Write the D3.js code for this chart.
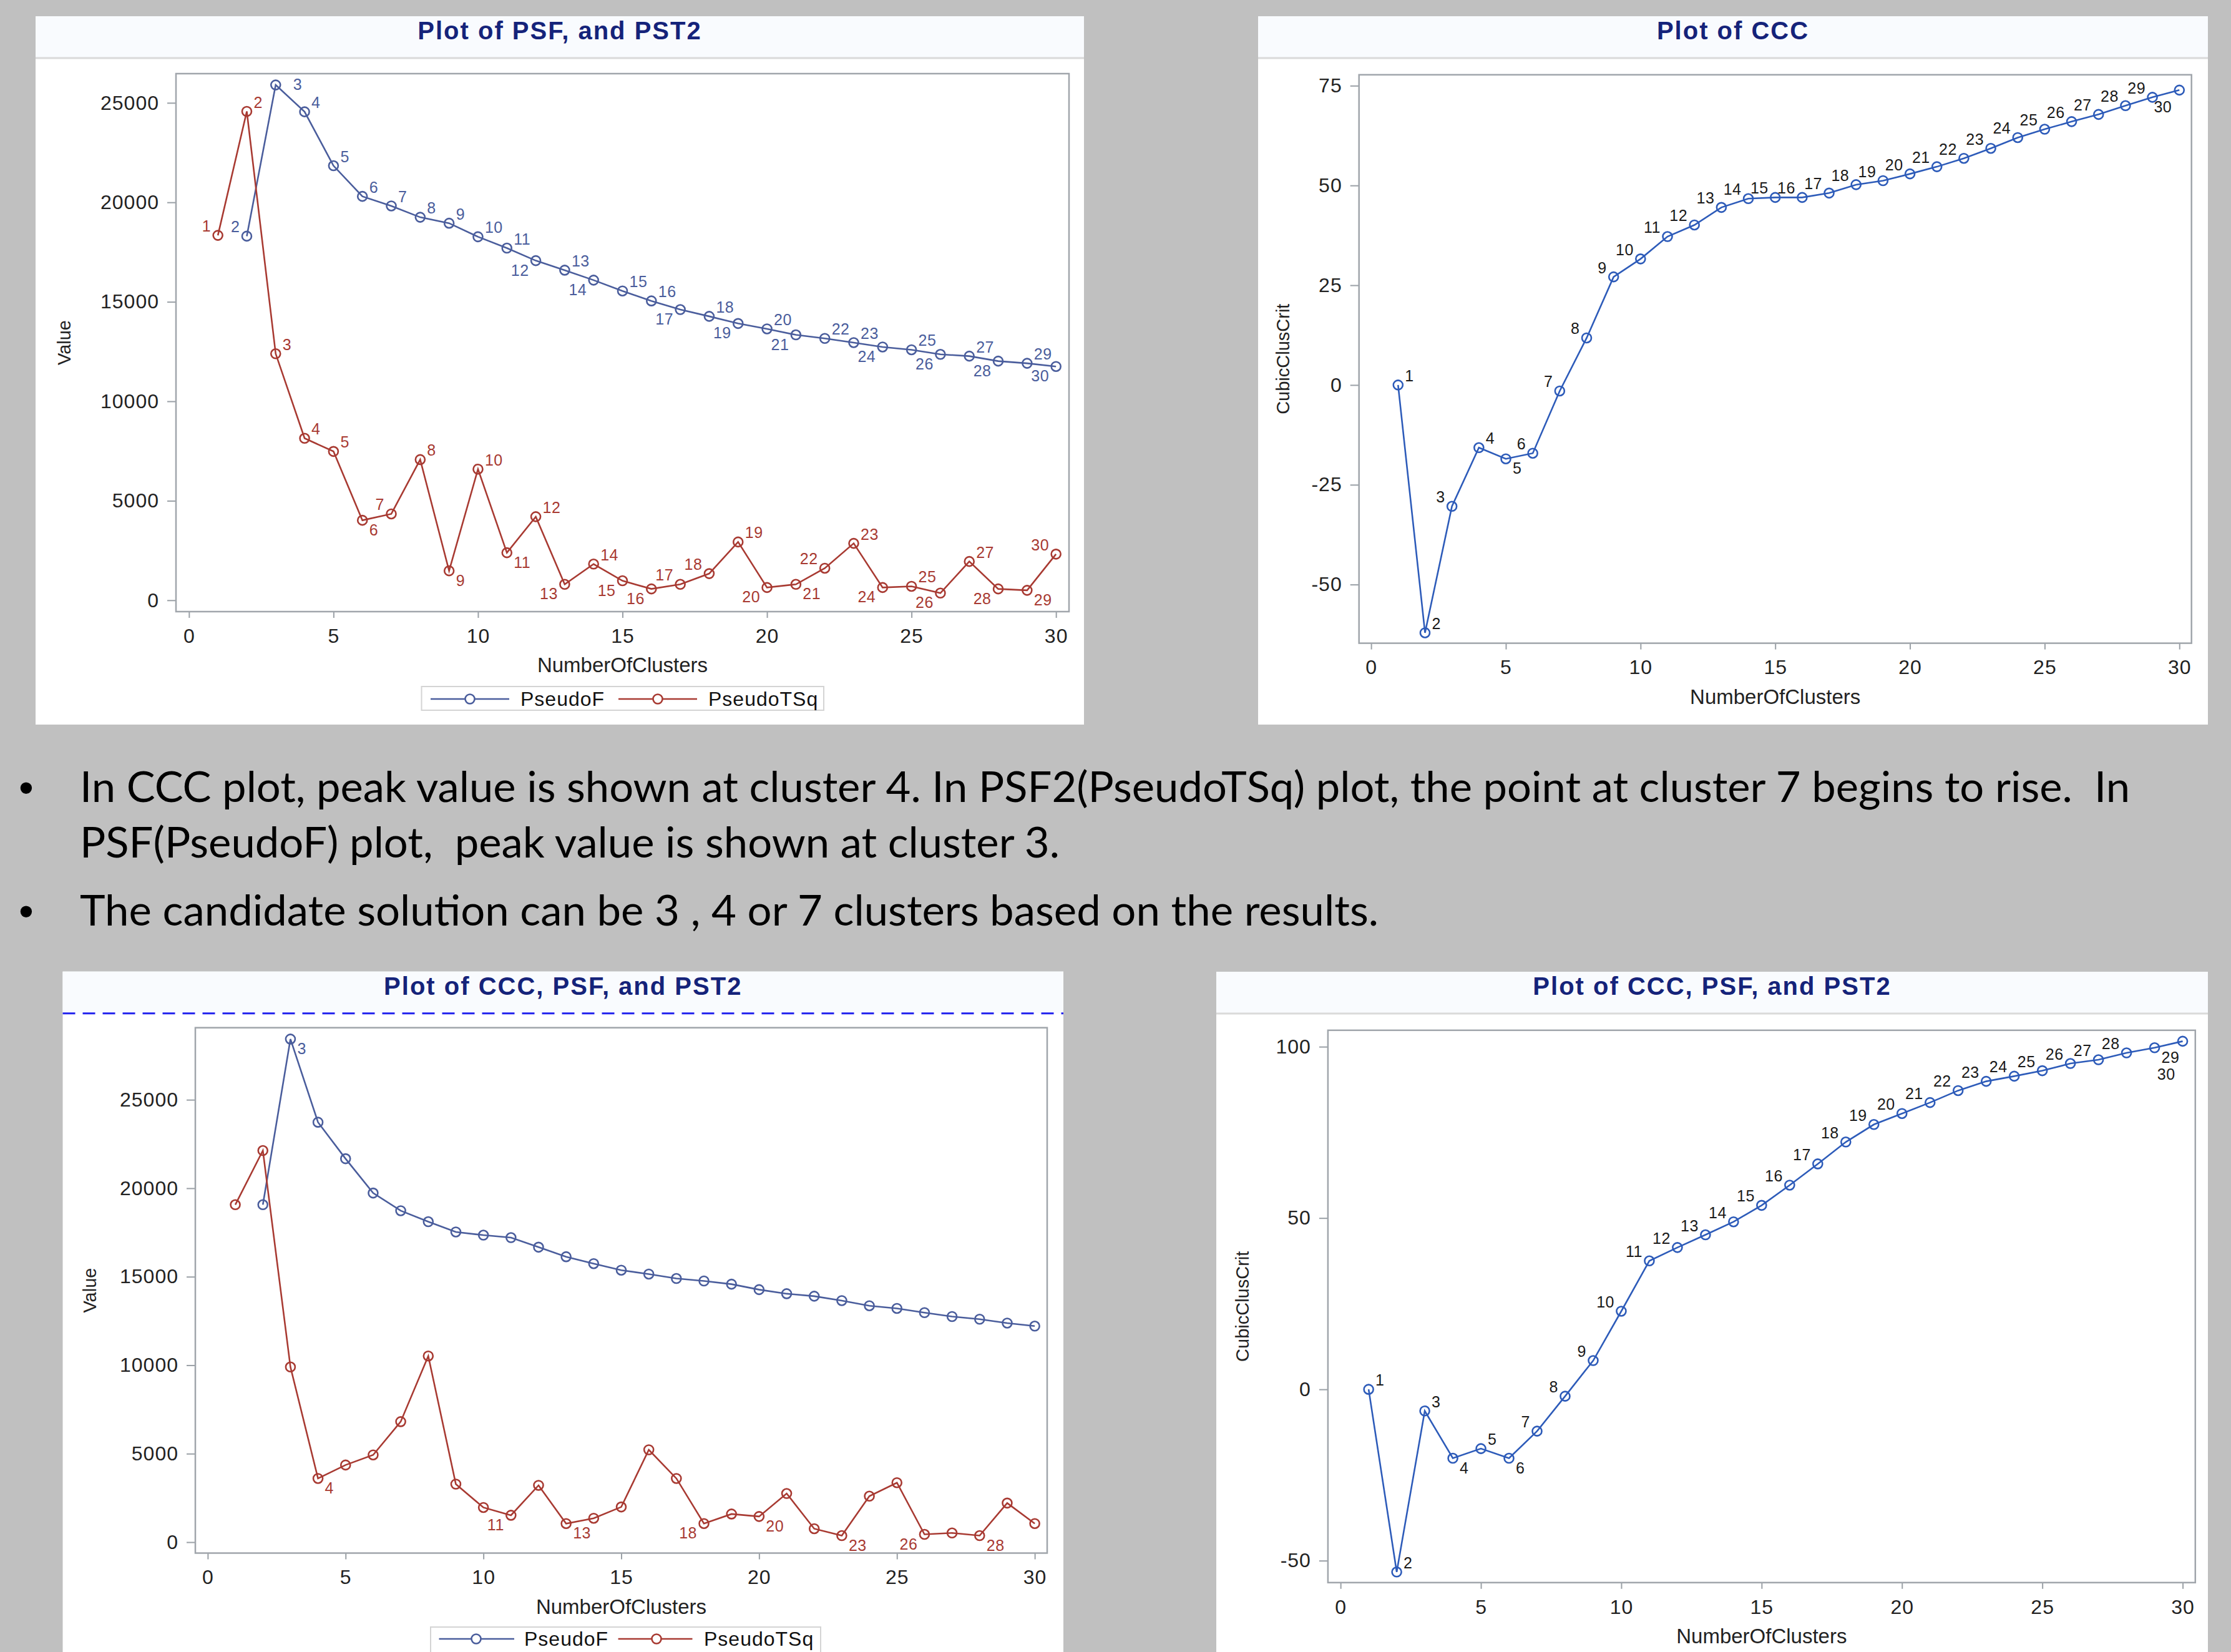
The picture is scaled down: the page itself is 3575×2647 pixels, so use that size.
<!DOCTYPE html>
<html>
<head>
<meta charset="utf-8">
<script src="https://cdn.jsdelivr.net/npm/d3@7/dist/d3.min.js"></script>
<style>
  html, body { margin: 0; padding: 0; background: #c0c0c0; }
  svg { display: block; }
</style>
</head>
<body>
<svg id="chart" width="3575" height="2647"></svg>
<script>
// ── Data ──────────────────────────────────────────────────────────────────────
const clusters = [1, 2, 3, 4, 5, 6, 7, 8, 9, 10, 11, 12, 13, 14, 15,
  16, 17, 18, 19, 20, 21, 22, 23, 24, 25, 26, 27, 28, 29, 30];
const clustersFrom2 = clusters.slice(1);

// top-left: Plot of PSF, and PST2
const pseudoFTop = [18300, 25900, 24550, 21840, 20300, 19820, 19250, 18950, 18270, 17700,
  17070, 16590, 16090, 15545, 15045, 14610, 14270, 13910, 13640, 13340,
  13160, 12950, 12730, 12590, 12360, 12270, 12020, 11910, 11750];
const pseudoTSqTop = [18340, 24570, 12390, 8140, 7480, 4020, 4340, 7070, 1480, 6590,
  2390, 4200, 800, 1820, 980, 570, 800, 1340, 2930, 640,
  800, 1610, 2860, 640, 700, 360, 1950, 570, 500, 2320];

// top-right: Plot of CCC
const cccTop = [0, -62.1, -30.4, -15.7, -18.5, -17.1, -1.5, 11.8, 27.1, 31.6,
  37.2, 40.1, 44.5, 46.7, 47.0, 47.0, 48.1, 50.2, 51.2, 52.9,
  54.7, 56.8, 59.3, 62.0, 64.1, 66.0, 67.8, 70.0, 72.1, 73.9];

// bottom-left: Plot of CCC, PSF, and PST2 (PSF / PST2)
const pseudoFBot = [19070, 28430, 23730, 21670, 19730, 18730, 18110, 17530, 17350, 17210,
  16670, 16130, 15740, 15370, 15150, 14900, 14760, 14580, 14270, 14040,
  13900, 13650, 13360, 13210, 12970, 12750, 12600, 12380, 12210];
const pseudoTSqBot = [19070, 22130, 9900, 3600, 4360, 4930, 6810, 10520, 3280, 1960,
  1520, 3210, 1050, 1350, 1990, 5220, 3600, 1050, 1590, 1450,
  2750, 760, 370, 2600, 3360, 440, 520, 370, 2210, 1050];

// bottom-right: Plot of CCC, PSF, and PST2 (CCC)
const cccBot = [0, -53.3, -6.3, -20.1, -17.3, -20.1, -12.2, -2.0, 8.4, 22.8,
  37.5, 41.4, 45.1, 48.9, 53.7, 59.6, 65.8, 72.2, 77.3, 80.5,
  83.7, 87.2, 89.9, 91.4, 93.0, 95.1, 96.2, 98.2, 99.7, 101.6];

const xTicks = [0, 5, 10, 15, 20, 25, 30];
const valueTicks = [0, 5000, 10000, 15000, 20000, 25000];
const cccTopTicks = [-50, -25, 0, 25, 50, 75];
const cccBotTicks = [-50, 0, 50, 100];

const bulletLines = [
  'In CCC plot, peak value is shown at cluster 4. In PSF2(PseudoTSq) plot, the point at cluster 7 begins to rise.  In',
  'PSF(PseudoF) plot,  peak value is shown at cluster 3.',
  'The candidate solution can be 3 , 4 or 7 clusters based on the results.'
];

// label placement per point (style only): ur / ul / lr / ll / lb / r / ll2, null = no label
const placePsfTop = ['ul', 'r', 'ur', 'ur', 'ur', 'ur', 'ur', 'ur', 'ur', 'ur',
  'll', 'ur', 'll', 'ur', 'ur', 'll', 'ur', 'll', 'ur', 'll',
  'ur', 'ur', 'll', 'ur', 'll', 'ur', 'll', 'ur', 'll'];
const placePstTop = ['ul', 'ur', 'ur', 'ur', 'ur', 'lr', 'ul', 'ur', 'lr', 'ur',
  'lr', 'ur', 'll', 'ur', 'll', 'll', 'ul', 'ul', 'ur', 'll',
  'lr', 'ul', 'ur', 'll', 'ur', 'll', 'ur', 'll', 'lr', 'ul'];
const placeCccTop = ['ur', 'ur', 'ul', 'ur', 'lr', 'ul', 'ul', 'ul', 'ul', 'ul',
  'ul', 'ul', 'ul', 'ul', 'ul', 'ul', 'ul', 'ul', 'ul', 'ul',
  'ul', 'ul', 'ul', 'ul', 'ul', 'ul', 'ul', 'ul', 'ul', 'lb'];
const placePsfBot = [null, 'lr', null, null, null, null, null, null, null, null,
  null, null, null, null, null, null, null, null, null, null,
  null, null, null, null, null, null, null, null, null];
const placePstBot = [null, null, null, 'lr', null, null, null, null, null, null,
  'll', null, 'lr', null, null, null, null, 'll', null, 'lr',
  null, null, 'lr', null, null, 'll', null, 'lr', null, null];
const placeCccBot = ['ur', 'ur', 'ur', 'lr', 'ur', 'lr', 'ul', 'ul', 'ul', 'ul',
  'ul', 'ul', 'ul', 'ul', 'ul', 'ul', 'ul', 'ul', 'ul', 'ul',
  'ul', 'ul', 'ul', 'ul', 'ul', 'ul', 'ul', 'ul', 'lr', 'll2'];

// ── Style ─────────────────────────────────────────────────────────────────────
const FONT = '"Liberation Sans", Arial, sans-serif';
const BLUE = '#4a5d9c';
const RED = '#a83a32';
const CCC_BLUE = '#2d5bb9';
const TITLE = '#15237a';

const OFFSETS = {
  ur:  { dx: 11,  dy: -6, anchor: 'start' },
  ul:  { dx: -11, dy: -6, anchor: 'end' },
  lr:  { dx: 11,  dy: 24, anchor: 'start' },
  ll:  { dx: -11, dy: 24, anchor: 'end' },
  lb:  { dx: -12, dy: 36, anchor: 'end' },
  r:   { dx: 28,  dy: 8,  anchor: 'start' },
  ll2: { dx: -12, dy: 62, anchor: 'end' }
};

const svg = d3.select('#chart');
svg.append('rect').attr('width', 3575).attr('height', 2647).attr('fill', '#c0c0c0');

// ── Panel ─────────────────────────────────────────────────────────────────────
function drawPanel(p) {
  const [bx0, by0, bx1, by1] = p.box;
  const [fx0, fy0, fx1, fy1] = p.frame;
  const g = svg.append('g');

  g.append('rect')
    .attr('x', bx0).attr('y', by0)
    .attr('width', bx1 - bx0).attr('height', by1 - by0)
    .attr('fill', '#ffffff');

  // title band
  g.append('rect')
    .attr('x', bx0).attr('y', by0)
    .attr('width', bx1 - bx0).attr('height', 67)
    .attr('fill', '#f9fbfe');
  g.append('line')
    .attr('x1', bx0).attr('x2', bx1)
    .attr('y1', by0 + 67).attr('y2', by0 + 67)
    .attr('stroke', p.dashed ? '#2222ee' : '#dadada')
    .attr('stroke-width', 3)
    .attr('stroke-dasharray', p.dashed ? '20,12' : null);
  g.append('text')
    .attr('x', (bx0 + bx1) / 2).attr('y', by0 + 37)
    .attr('text-anchor', 'middle')
    .attr('font-family', FONT).attr('font-weight', 'bold')
    .attr('font-size', 40).attr('letter-spacing', 2)
    .attr('fill', TITLE)
    .text(p.title);

  const x = d3.scaleLinear().domain([-0.45, 30.45]).range([fx0, fx1]);
  const y = d3.scaleLinear().domain(p.yDomain).range([fy1, fy0]);

  // axes
  const xAxis = g.append('g')
    .attr('transform', `translate(0,${fy1})`)
    .call(d3.axisBottom(x).tickValues(xTicks).tickSize(10).tickPadding(17));
  const yAxis = g.append('g')
    .attr('transform', `translate(${fx0},0)`)
    .call(d3.axisLeft(y).tickValues(p.yTicks).tickSize(14).tickPadding(13).tickFormat(d3.format('d')));
  [xAxis, yAxis].forEach(a => {
    a.select('.domain').remove();
    a.selectAll('line').attr('stroke', '#9aa0a6').attr('stroke-width', 2);
    a.selectAll('text')
      .attr('font-family', FONT).attr('font-size', 32)
      .attr('letter-spacing', 1).attr('fill', '#222');
  });
  yAxis.selectAll('text').text(d => d < 0 ? '-' + Math.abs(d) : d);

  // frame
  g.append('rect')
    .attr('x', fx0).attr('y', fy0)
    .attr('width', fx1 - fx0).attr('height', fy1 - fy0)
    .attr('fill', 'none').attr('stroke', '#a0a5ab').attr('stroke-width', 2.5);

  // axis labels
  g.append('text')
    .attr('x', (fx0 + fx1) / 2).attr('y', fy1 + 97)
    .attr('text-anchor', 'middle')
    .attr('font-family', FONT).attr('font-size', 33).attr('fill', '#222')
    .text('NumberOfClusters');
  g.append('text')
    .attr('transform', `translate(${p.yLabelX},${(fy0 + fy1) / 2}) rotate(-90)`)
    .attr('text-anchor', 'middle').attr('dominant-baseline', 'central')
    .attr('font-family', FONT).attr('font-size', 29).attr('fill', '#222')
    .text(p.yLabel);

  // series
  p.series.forEach(s => {
    const pts = s.x.map((k, i) => ({ k, v: s.y[i], place: s.place[i] }));
    g.append('path')
      .datum(pts)
      .attr('fill', 'none')
      .attr('stroke', s.color).attr('stroke-width', 2.6)
      .attr('d', d3.line().x(d => x(d.k)).y(d => y(d.v)));
    g.append('g').selectAll('circle')
      .data(pts)
      .join('circle')
      .attr('cx', d => x(d.k)).attr('cy', d => y(d.v))
      .attr('r', 7.5)
      .attr('fill', 'none').attr('stroke', s.color).attr('stroke-width', 2.6);
    g.append('g').selectAll('text')
      .data(pts.filter(d => d.place))
      .join('text')
      .attr('x', d => x(d.k) + OFFSETS[d.place].dx)
      .attr('y', d => y(d.v) + OFFSETS[d.place].dy)
      .attr('text-anchor', d => OFFSETS[d.place].anchor)
      .attr('font-family', FONT).attr('font-size', 25).attr('letter-spacing', 0.5)
      .attr('fill', s.labelColor)
      .text(d => d.k);
  });

  if (p.legend) drawLegend(g, p.legend);
}

function drawLegend(g, L) {
  g.append('rect')
    .attr('x', L.box[0]).attr('y', L.box[1])
    .attr('width', L.box[2] - L.box[0]).attr('height', L.box[3] - L.box[1])
    .attr('fill', '#ffffff').attr('stroke', '#d4d4d4').attr('stroke-width', 2);
  L.items.forEach(it => {
    g.append('line')
      .attr('x1', it.lx0).attr('x2', it.lx1)
      .attr('y1', L.lineY).attr('y2', L.lineY)
      .attr('stroke', it.color).attr('stroke-width', 2.6);
    g.append('circle')
      .attr('cx', it.mx).attr('cy', L.lineY).attr('r', 7.5)
      .attr('fill', '#fff').attr('stroke', it.color).attr('stroke-width', 2.6);
    g.append('text')
      .attr('x', it.tx).attr('y', L.textY)
      .attr('font-family', FONT).attr('font-size', 32).attr('letter-spacing', 1)
      .attr('fill', '#111')
      .text(it.name);
  });
}

// ── Panels ────────────────────────────────────────────────────────────────────
drawPanel({
  box: [57, 26, 1737, 1161],
  frame: [282, 118, 1713, 980],
  yDomain: [-571, 26468],
  yTicks: valueTicks,
  yLabel: 'Value', yLabelX: 103,
  title: 'Plot of PSF, and PST2',
  series: [
    { x: clustersFrom2, y: pseudoFTop, color: BLUE, labelColor: BLUE, place: placePsfTop },
    { x: clusters, y: pseudoTSqTop, color: RED, labelColor: RED, place: placePstTop }
  ],
  legend: {
    box: [675.5, 1100, 1320, 1138], lineY: 1120, textY: 1131,
    items: [
      { name: 'PseudoF', color: BLUE, lx0: 690, lx1: 816, mx: 753, tx: 834 },
      { name: 'PseudoTSq', color: RED, lx0: 991, lx1: 1117, mx: 1054, tx: 1135 }
    ]
  }
});

drawPanel({
  box: [2016, 26, 3538, 1161],
  frame: [2177.7, 119.8, 3511.7, 1030.6],
  yDomain: [-64.7, 77.74],
  yTicks: cccTopTicks,
  yLabel: 'CubicClusCrit', yLabelX: 2056,
  title: 'Plot of CCC',
  series: [
    { x: clusters, y: cccTop, color: CCC_BLUE, labelColor: '#1a1a1a', place: placeCccTop }
  ]
});

drawPanel({
  box: [100.5, 1556.7, 1704, 2660],
  frame: [313, 1646.7, 1678, 2488.5],
  yDomain: [-617, 29072],
  yTicks: valueTicks,
  yLabel: 'Value', yLabelX: 143.6,
  title: 'Plot of CCC, PSF, and PST2',
  dashed: true,
  series: [
    { x: clustersFrom2, y: pseudoFBot, color: BLUE, labelColor: BLUE, place: placePsfBot },
    { x: clusters, y: pseudoTSqBot, color: RED, labelColor: RED, place: placePstBot }
  ],
  legend: {
    box: [690, 2607, 1315, 2660], lineY: 2626, textY: 2637,
    items: [
      { name: 'PseudoF', color: BLUE, lx0: 703.5, lx1: 824, mx: 763, tx: 840 },
      { name: 'PseudoTSq', color: RED, lx0: 990.6, lx1: 1109.5, mx: 1052, tx: 1128 }
    ]
  }
});

drawPanel({
  box: [1949, 1557, 3538, 2660],
  frame: [2127.9, 1650.8, 3517.8, 2535.8],
  yDomain: [-56.4, 104.8],
  yTicks: cccBotTicks,
  yLabel: 'CubicClusCrit', yLabelX: 1990.8,
  title: 'Plot of CCC, PSF, and PST2',
  series: [
    { x: clusters, y: cccBot, color: CCC_BLUE, labelColor: '#1a1a1a', place: placeCccBot }
  ]
});

// ── Bullet text ───────────────────────────────────────────────────────────────
const TEXT_FONT = 'Lato, "Open Sans", sans-serif';
const textRows = [
  { line: bulletLines[0], y: 1285, bullet: true, width: 3285 },
  { line: bulletLines[1], y: 1374, bullet: false, width: 1570 },
  { line: bulletLines[2], y: 1483, bullet: true, width: 2081 }
];
const textG = svg.append('g');
textRows.forEach(r => {
  if (r.bullet) {
    textG.append('text')
      .attr('x', 42).attr('y', r.y)
      .attr('text-anchor', 'middle')
      .attr('font-family', FONT).attr('font-size', 68).attr('fill', '#000')
      .text('•');
  }
  textG.append('text')
    .attr('x', 128).attr('y', r.y)
    .attr('font-family', TEXT_FONT).attr('font-size', 68).attr('fill', '#000')
    .attr('textLength', r.width).attr('lengthAdjust', 'spacingAndGlyphs')
    .style('white-space', 'pre')
    .text(r.line);
});
</script>
</body>
</html>
